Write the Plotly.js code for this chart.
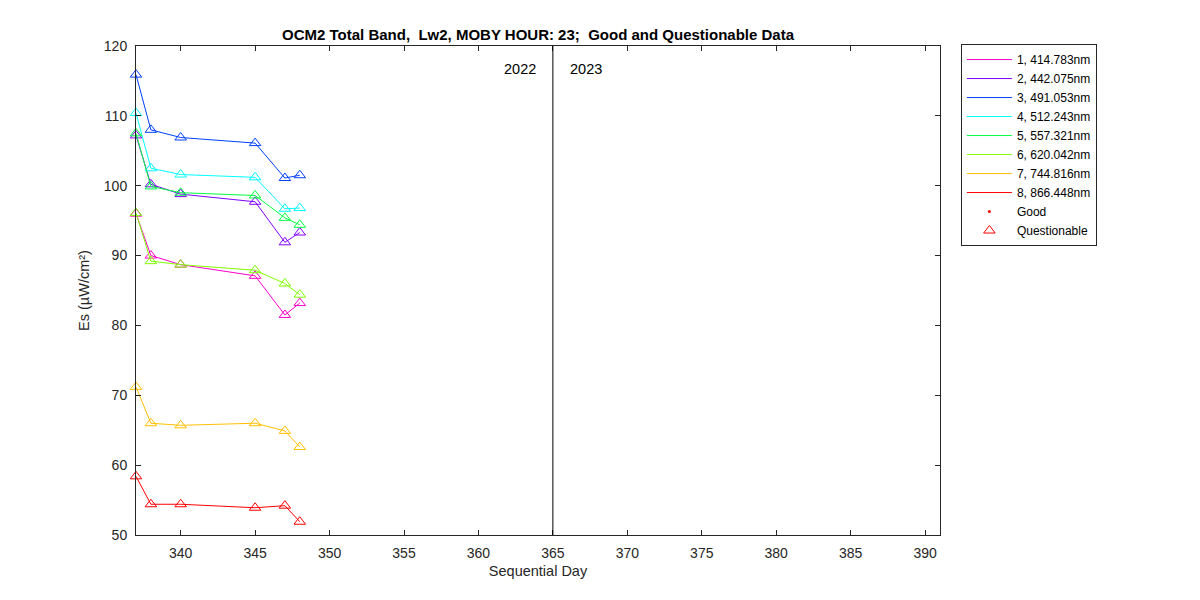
<!DOCTYPE html>
<html><head><meta charset="utf-8">
<script src="https://cdn.plot.ly/plotly-3.0.1.min.js"></script>
<style>body{margin:0;background:#fff}#c{width:1200px;height:600px}</style>
</head><body><div id="c"></div>
<script>
const days = [337, 338, 340, 345, 347, 348];
const bandNames = ["1, 414.783nm","2, 442.075nm","3, 491.053nm","4, 512.243nm","5, 557.321nm","6, 620.042nm","7, 744.816nm","8, 866.448nm"];
const bandColors = ["#FF00CC","#8000FF","#0040FF","#00FFFF","#00FF40","#80FF00","#FFBF00","#FF0000"];
const band1 = [96.0, 90.0, 88.7, 87.1, 81.5, 83.2];
const band2 = [107.2, 100.2, 98.8, 97.7, 91.9, 93.3];
const band3 = [115.9, 108.0, 106.9, 106.1, 101.1, 101.5];
const band4 = [110.4, 102.5, 101.6, 101.2, 96.7, 96.8];
const band5 = [107.5, 99.9, 99.0, 98.6, 95.4, 94.4];
const band6 = [96.1, 89.2, 88.7, 87.9, 86.0, 84.4];
const band7 = [71.2, 66.0, 65.7, 66.0, 64.9, 62.6];
const band8 = [58.4, 54.4, 54.4, 53.9, 54.2, 51.9];
const bands = [band1, band2, band3, band4, band5, band6, band7, band8];
const yearBoundary = 365;
const yearLabels = ["2022", "2023"];

const traces = [];
bands.forEach((v, i) => {
  traces.push({x: days, y: v, type: 'scatter', mode: 'lines+markers', showlegend: false, cliponaxis: false,
    line: {color: bandColors[i], width: 1},
    marker: {symbol: 'triangle-up-open', size: 10, color: bandColors[i], line: {width: 1}}});
});
bands.forEach((v, i) => {
  traces.push({x: [null], y: [null], type: 'scatter', mode: 'lines', name: bandNames[i],
    line: {color: bandColors[i], width: 1}});
});
traces.push({x: [null], y: [null], type: 'scatter', mode: 'markers', name: 'Good',
  marker: {symbol: 'circle', size: 3, color: '#FF0000'}});
traces.push({x: [null], y: [null], type: 'scatter', mode: 'markers', name: 'Questionable',
  marker: {symbol: 'triangle-up-open', size: 10, color: '#FF0000', line: {width: 1}}});

const ax = {showline: true, mirror: 'ticks', linecolor: '#262626', linewidth: 1, ticks: 'inside',
  ticklen: 5, tickcolor: '#262626', showgrid: false, zeroline: false, ticklabelstandoff: 5,
  tickfont: {family: 'Liberation Sans, Arial', size: 14, color: '#262626'}};

const layout = {
  width: 1200, height: 600, paper_bgcolor: '#fff', plot_bgcolor: '#fff',
  margin: {l: 136, r: 260, t: 46, b: 65},
  font: {family: 'Liberation Sans, Arial', size: 14, color: '#262626'},
  title: {text: '<b>OCM2 Total Band,  Lw2, MOBY HOUR: 23;  Good and Questionable Data</b>',
    font: {size: 15, color: '#000'}, xref: 'paper', x: 0.5, xanchor: 'center', y: 0.942, yanchor: 'middle'},
  xaxis: Object.assign({}, ax, {range: [337, 391], tickvals: [340,345,350,355,360,365,370,375,380,385,390],
    title: {text: 'Sequential Day', font: {size: 14.5, color: '#262626'}, standoff: 6}}),
  yaxis: Object.assign({}, ax, {range: [50, 120], tickvals: [50,60,70,80,90,100,110,120],
    title: {text: 'Es (µW/cm²)', font: {size: 14.5, color: '#262626'}, standoff: 10}}),
  shapes: [{type: 'line', xref: 'x', yref: 'paper', x0: yearBoundary, x1: yearBoundary, y0: 0, y1: 1,
    line: {color: '#000', width: 1}}],
  annotations: [
    {x: yearBoundary - 1, y: 116.7, xref: 'x', yref: 'y', text: yearLabels[0], showarrow: false, xanchor: 'right', font: {size: 14.5, color: '#000'}},
    {x: yearBoundary + 1, y: 116.7, xref: 'x', yref: 'y', text: yearLabels[1], showarrow: false, xanchor: 'left', font: {size: 14.5, color: '#000'}}
  ],
  legend: {x: 1.026, xanchor: 'left', y: 1.004, yanchor: 'top', bordercolor: '#262626', borderwidth: 1,
    bgcolor: '#fff', font: {size: 12, color: '#000'}, tracegroupgap: 0, itemwidth: 45}
};
Plotly.newPlot('c', traces, layout, {displayModeBar: false, staticPlot: true});
</script></body></html>
